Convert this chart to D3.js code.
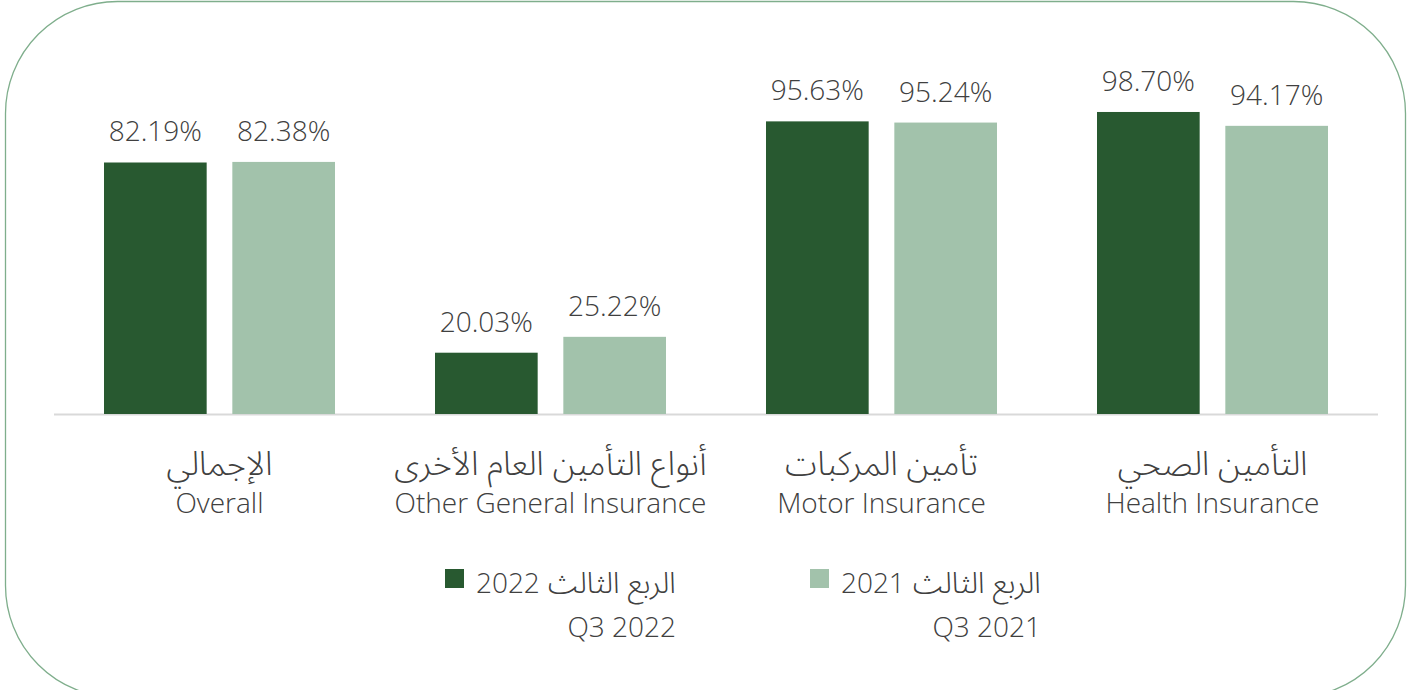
<!DOCTYPE html>
<html>
<head>
<meta charset="utf-8">
<script src="https://cdn.jsdelivr.net/npm/d3@7"></script>
<style>
  body { margin: 0; background: #fff; }
  svg { display: block; font-family: "Open Sans", "Noto Sans Arabic", "Noto Sans", "DejaVu Sans", sans-serif; font-weight: 300; }
</style>
</head>
<body>
<svg id="viz" width="1415" height="690"></svg>
<script>
const svg = d3.select("#viz");
const width = +svg.attr("width");
const height = +svg.attr("height");

// data
const categoriesAr = ["الإجمالي", "أنواع التأمين العام الأخرى", "تأمين المركبات", "التأمين الصحي"];
const categoriesEn = ["Overall", "Other General Insurance", "Motor Insurance", "Health Insurance"];
const seriesKeys = ["Q3 2022", "Q3 2021"];
const seriesYears = ["2022", "2021"];
const legendAr = "الربع الثالث";
const q3_2022 = [82.19, 20.03, 95.63, 98.70];
const q3_2021 = [82.38, 25.22, 95.24, 94.17];

const rows = categoriesEn.map((c, i) => ({ cat: c, values: [q3_2022[i], q3_2021[i]] }));

const color = d3.scaleOrdinal().domain(seriesKeys).range(["#285930", "#a2c2ab"]);
const textColor = "#404040";

// rounded frame
svg.append("rect")
  .attr("x", 5.5).attr("y", 1.5)
  .attr("width", 1400).attr("height", 696)
  .attr("rx", 112).attr("ry", 112)
  .attr("fill", "none")
  .attr("stroke", "#7fae8c")
  .attr("stroke-width", 1.3);

const x0 = d3.scaleBand().domain(categoriesEn).range([54, 1378]).paddingInner(0).paddingOuter(0);
const x1 = d3.scaleBand().domain(seriesKeys).range([50, 281]).paddingInner(0.2);
const y = d3.scaleLinear().domain([0, 100]).range([414, 108]);

// baseline
svg.append("line")
  .attr("x1", x0.range()[0]).attr("x2", x0.range()[1])
  .attr("y1", y(0) + 0.5).attr("y2", y(0) + 0.5)
  .attr("stroke", "#d9d9d9").attr("stroke-width", 2);

const groups = svg.selectAll("g.grp")
  .data(rows)
  .join("g")
  .attr("class", "grp")
  .attr("transform", d => `translate(${x0(d.cat)},0)`);

groups.selectAll("rect")
  .data(d => d.values.map((v, i) => ({ key: seriesKeys[i], v })))
  .join("rect")
  .attr("x", d => x1(d.key))
  .attr("y", d => y(d.v))
  .attr("width", x1.bandwidth())
  .attr("height", d => y(0) - y(d.v))
  .attr("fill", d => color(d.key));

groups.selectAll("text.val")
  .data(d => d.values.map((v, i) => ({ key: seriesKeys[i], v })))
  .join("text")
  .attr("class", "val")
  .attr("x", d => x1(d.key) + x1.bandwidth() / 2)
  .attr("y", d => y(d.v) - 21)
  .attr("text-anchor", "middle")
  .attr("font-size", "28px")
  .attr("fill", textColor)
  .text(d => d3.format(".2f")(d.v) + "%");

// category labels
categoriesEn.forEach((c, i) => {
  const cx = x0(c) + x0.bandwidth() / 2;
  svg.append("text")
    .attr("x", cx).attr("y", 475)
    .attr("text-anchor", "middle")
    .attr("font-size", "33px")
    .attr("fill", textColor)
    .text(categoriesAr[i]);
  svg.append("text")
    .attr("x", cx).attr("y", 513)
    .attr("text-anchor", "middle")
    .attr("font-size", "28px")
    .attr("fill", textColor)
    .text(c);
});

// legend
const legendX = [445, 810];
seriesKeys.forEach((k, i) => {
  const g = svg.append("g").attr("transform", `translate(${legendX[i]},569)`);
  g.append("rect")
    .attr("width", 19).attr("height", 19)
    .attr("fill", color(k));
  const t = g.append("text")
    .attr("x", 231).attr("y", 24)
    .attr("text-anchor", "end")
    .attr("font-size", "28px")
    .attr("fill", textColor);
  t.append("tspan").attr("font-size", "30px").text(legendAr + " ");
  t.append("tspan").text(seriesYears[i]);
  g.append("text")
    .attr("x", 231).attr("y", 68)
    .attr("text-anchor", "end")
    .attr("font-size", "28px")
    .attr("fill", textColor)
    .text(k);
});
</script>
</body>
</html>
